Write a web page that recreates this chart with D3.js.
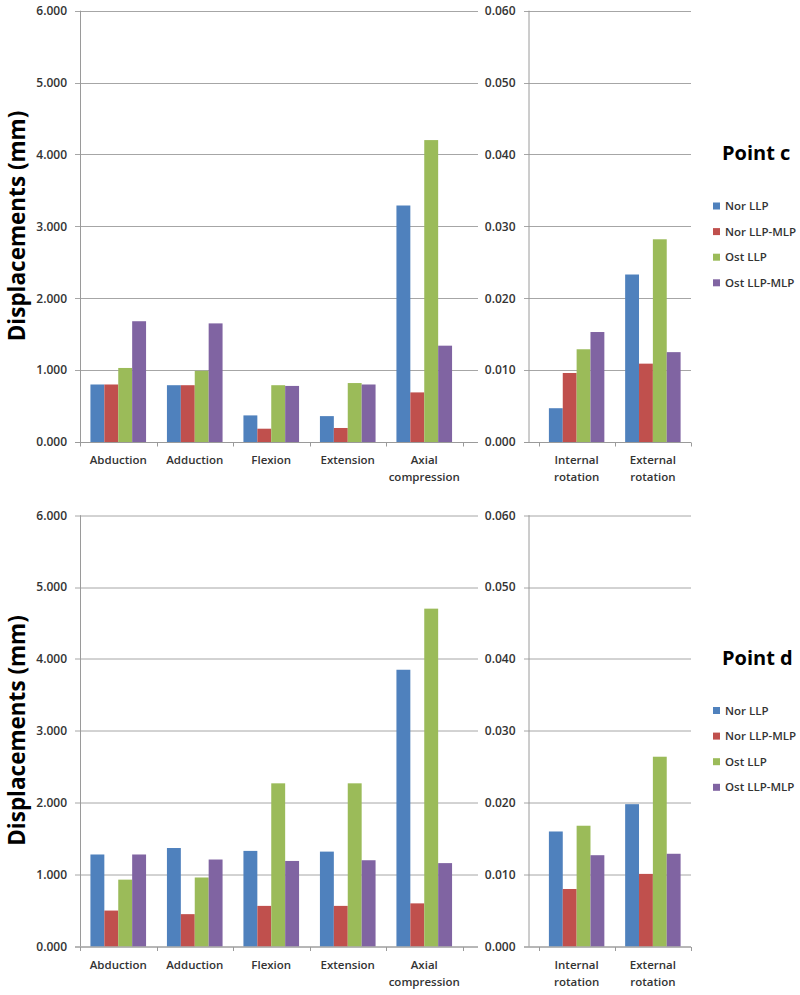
<!DOCTYPE html>
<html>
<head>
<meta charset="utf-8">
<script src="https://cdn.jsdelivr.net/npm/d3@7/dist/d3.min.js"></script>
<style>
  html, body { margin: 0; padding: 0; background: #fff; }
  svg { display: block; font-family: "Open Sans", "DejaVu Sans", sans-serif; }
</style>
</head>
<body>
<svg id="chart" width="800" height="995"></svg>
<script>
// ---- data ----
const seriesNames = ["Nor LLP", "Nor LLP-MLP", "Ost LLP", "Ost LLP-MLP"];
const seriesColors = ["#4F81BD", "#C0504D", "#9BBB59", "#8064A2"];
const mainCategories = ["Abduction", "Adduction", "Flexion", "Extension", "Axial\ncompression"];
const rotCategories = ["Internal\nrotation", "External\nrotation"];
const mainTicks = [0, 1, 2, 3, 4, 5, 6];
const rotTicks = [0, 0.01, 0.02, 0.03, 0.04, 0.05, 0.06];

// Point c
const cNorLLP      = [0.80, 0.79, 0.37, 0.36, 3.29];
const cNorLLPMLP   = [0.80, 0.79, 0.185, 0.195, 0.69];
const cOstLLP      = [1.03, 0.99, 0.79, 0.82, 4.20];
const cOstLLPMLP   = [1.68, 1.65, 0.78, 0.80, 1.34];
const cRotNorLLP    = [0.0047, 0.0233];
const cRotNorLLPMLP = [0.0096, 0.0109];
const cRotOstLLP    = [0.0129, 0.0282];
const cRotOstLLPMLP = [0.0153, 0.0125];

// Point d
const dNorLLP      = [1.28, 1.37, 1.33, 1.32, 3.85];
const dNorLLPMLP   = [0.50, 0.45, 0.565, 0.565, 0.60];
const dOstLLP      = [0.93, 0.96, 2.27, 2.27, 4.70];
const dOstLLPMLP   = [1.28, 1.21, 1.19, 1.20, 1.16];
const dRotNorLLP    = [0.0160, 0.0198];
const dRotNorLLPMLP = [0.0080, 0.0101];
const dRotOstLLP    = [0.0168, 0.0264];
const dRotOstLLPMLP = [0.0127, 0.0129];

const panels = [
  { title: "Point c", dy: 0,
    main: [cNorLLP, cNorLLPMLP, cOstLLP, cOstLLPMLP],
    rot: [cRotNorLLP, cRotNorLLPMLP, cRotOstLLP, cRotOstLLPMLP] },
  { title: "Point d", dy: 504.5,
    main: [dNorLLP, dNorLLPMLP, dOstLLP, dOstLLPMLP],
    rot: [dRotNorLLP, dRotNorLLPMLP, dRotOstLLP, dRotOstLLPMLP] }
];

// ---- drawing ----
const svg = d3.select("#chart");
const gridColor = "#a6a6a6";
const axisColor = "#9a9a9a";
const textColor = "#333333";

function drawSubChart(g, cats, seriesVals, ticks, fmt, yDomain, axisX, catRange, gridRange, y0, y1) {
  const y = d3.scaleLinear().domain(yDomain).range([y0, y1]);
  const x0 = d3.scaleBand().domain(cats).range(catRange).paddingInner(0).paddingOuter(0);
  const x1 = d3.scaleBand().domain(seriesNames).range([0, x0.bandwidth()]).paddingInner(0).paddingOuter(0.75);

  // gridlines
  g.append("g").selectAll("line").data(ticks).join("line")
    .attr("x1", gridRange[0]).attr("x2", gridRange[1])
    .attr("y1", d => Math.round(y(d)) + 0.5).attr("y2", d => Math.round(y(d)) + 0.5)
    .attr("stroke", gridColor).attr("stroke-width", 1);

  // y axis labels
  const ya = g.append("g").attr("transform", `translate(${axisX},0)`)
    .call(d3.axisLeft(y).tickValues(ticks).tickFormat(fmt).tickSize(0).tickPadding(13));
  ya.select(".domain").remove();
  ya.selectAll("text").attr("font-size", 12).attr("fill", textColor)
    .attr("font-family", "'Open Sans', sans-serif").attr("font-weight", 600);

  // bars
  seriesVals.forEach((vals, si) => {
    g.append("g").selectAll("rect").data(vals).join("rect")
      .attr("x", (d, i) => x0(cats[i]) + x1(seriesNames[si]))
      .attr("width", x1.bandwidth())
      .attr("y", d => y(d))
      .attr("height", d => y(0) - y(d))
      .attr("fill", seriesColors[si]);
  });

  // y axis line
  g.append("line").attr("x1", axisX + 0.5).attr("x2", axisX + 0.5)
    .attr("y1", y(yDomain[1])).attr("y2", y(0))
    .attr("stroke", axisColor).attr("stroke-width", 1);
  // x axis line
  const yb = Math.round(y(0)) + 0.5;
  g.append("line").attr("x1", gridRange[0]).attr("x2", gridRange[1])
    .attr("y1", yb).attr("y2", yb).attr("stroke", axisColor).attr("stroke-width", 1);
  // category boundary ticks
  const bounds = cats.map(c => x0(c)).concat([x0(cats[cats.length - 1]) + x0.bandwidth()]);
  g.append("g").selectAll("line").data(bounds).join("line")
    .attr("x1", d => Math.round(d) + 0.5).attr("x2", d => Math.round(d) + 0.5)
    .attr("y1", yb).attr("y2", yb + 4)
    .attr("stroke", axisColor).attr("stroke-width", 1);

  // category labels
  const lab = g.append("g").selectAll("text").data(cats).join("text")
    .attr("x", c => x0(c) + x0.bandwidth() / 2)
    .attr("y", y(0) + 22)
    .attr("text-anchor", "middle")
    .attr("font-size", 11.5).attr("font-weight", 600).attr("fill", textColor);
  lab.each(function(c) {
    const lines = c.split("\n");
    d3.select(this).selectAll("tspan").data(lines).join("tspan")
      .attr("x", x0(c) + x0.bandwidth() / 2)
      .attr("dy", (d, i) => i === 0 ? 0 : 17)
      .text(d => d);
  });
}

panels.forEach(p => {
  const g = svg.append("g").attr("transform", `translate(0,${p.dy})`);
  const y0 = 442, y1 = 10.7;

  drawSubChart(g, mainCategories, p.main, mainTicks, d3.format(".3f"), [0, 6],
    80, [80, 462.5], [75, 478], y0, y1);
  drawSubChart(g, rotCategories, p.rot, rotTicks, d3.format(".3f"), [0, 0.06],
    528.5, [538.5, 691], [524, 691], y0, y1);

  // y axis title
  g.append("text")
    .attr("transform", "translate(24.5,226) rotate(-90)")
    .attr("text-anchor", "middle")
    .attr("font-size", 22.5).attr("font-weight", 700).attr("fill", "#000")
    .text("Displacements (mm)");

  // panel title
  g.append("text").attr("x", 722).attr("y", 160)
    .attr("font-size", 20).attr("font-weight", 700).attr("fill", "#000")
    .text(p.title);

  // legend
  const lg = g.append("g").selectAll("g").data(seriesNames).join("g")
    .attr("transform", (d, i) => `translate(713,${206 + i * 25.6})`);
  lg.append("rect").attr("x", 0).attr("y", -3.5).attr("width", 7).attr("height", 7)
    .attr("fill", (d, i) => seriesColors[i]);
  lg.append("text").attr("x", 12).attr("y", 0).attr("dy", "0.35em")
    .attr("font-size", 11.5).attr("font-weight", 600).attr("fill", textColor)
    .text(d => d);
});
</script>
</body>
</html>
